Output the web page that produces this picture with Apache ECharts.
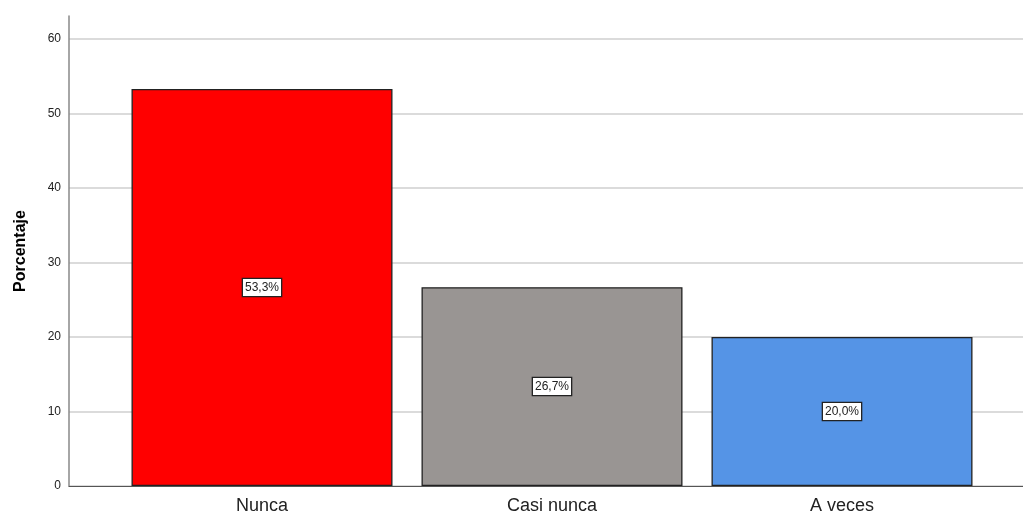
<!DOCTYPE html>
<html><head><meta charset="utf-8">
<script src="https://cdn.jsdelivr.net/npm/echarts@6/dist/echarts.min.js"></script>
<style>html,body{margin:0;padding:0;background:#fff}#c{width:1023px;height:515px}</style>
</head><body><div id="c"></div>
<script>
const categories = ['Nunca', 'Casi nunca', 'A veces'];
const values = [53.3, 26.7, 20.0];
const barColors = ['#ff0000', '#999593', '#5594e6'];
const yTicks = [0, 10, 20, 30, 40, 50, 60];

const chart = echarts.init(document.getElementById('c'), null, {renderer: 'canvas'});
const yMax = 63.1;
chart.setOption({
  animation: false,
  grid: [
    {left: 69, right: 0, top: 16, bottom: 29},
    {left: 117, right: 36, top: 16, bottom: 29}
  ],
  xAxis: [
    {gridIndex: 0, type: 'value', min: 0, max: 1, axisLine: {show: true, lineStyle: {color: '#555', width: 1}},
     axisTick: {show: false}, axisLabel: {show: false}, splitLine: {show: false}},
    {gridIndex: 1, type: 'category', data: categories, axisLine: {show: false}, axisTick: {show: false},
     axisLabel: {color: '#222', fontSize: 18, fontFamily: 'Arial, Liberation Sans, sans-serif', margin: 11}}
  ],
  yAxis: [
    {gridIndex: 0, type: 'value', min: 0, max: yMax, interval: 10,
     axisLine: {show: true, lineStyle: {color: '#888', width: 1.5}}, axisTick: {show: false},
     axisLabel: {color: '#222', fontSize: 12, fontFamily: 'Arial, Liberation Sans, sans-serif', margin: 8, showMaxLabel: false,
       formatter: v => yTicks.includes(v) ? String(v) : ''},
     splitLine: {show: true, showMaxLine: false, lineStyle: {color: '#cfcfcf', width: 1.5}},
     name: 'Porcentaje', nameLocation: 'middle', nameGap: 40, nameRotate: 90,
     nameTextStyle: {color: '#000', fontSize: 16, fontWeight: 'bold', fontFamily: 'Arial, Liberation Sans, sans-serif'}},
    {gridIndex: 1, type: 'value', min: 0, max: yMax, show: false, splitLine: {show: false}}
  ],
  series: [{
    type: 'bar', xAxisIndex: 1, yAxisIndex: 1,
    data: values.map((v, i) => ({value: v, itemStyle: {color: barColors[i]}})),
    barWidth: 261,
    itemStyle: {borderColor: '#222', borderWidth: 1.3},
    label: {show: true, position: 'inside', formatter: p => p.value.toFixed(1).replace('.', ',') + '%',
      color: '#222', fontSize: 12, fontFamily: 'Arial, Liberation Sans, sans-serif',
      backgroundColor: '#fff', borderColor: '#222', borderWidth: 1.3, padding: [3, 2, 2, 2]}
  }]
});
</script></body></html>
